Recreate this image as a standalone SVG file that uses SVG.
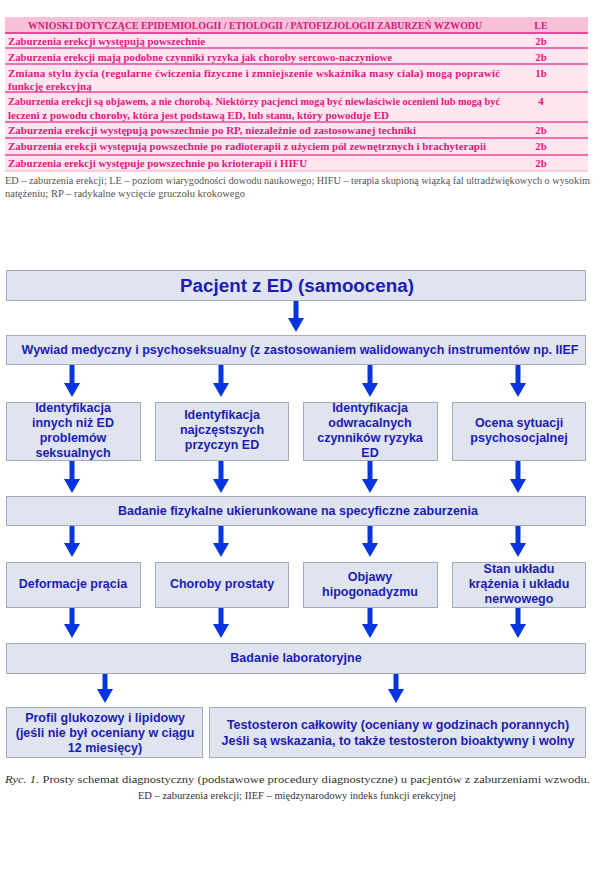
<svg xmlns="http://www.w3.org/2000/svg" width="600" height="886" viewBox="0 0 600 886">
<defs>
<style>
.tt{font-family:"Liberation Serif",serif;font-weight:bold;font-size:10.9px;fill:#e2177f}
.th{font-family:"Liberation Serif",serif;font-weight:bold;font-size:10px;fill:#d6197c}
.le{text-anchor:middle}
.fn{font-family:"Liberation Serif",serif;font-size:10.3px;fill:#555}
.cap{font-family:"Liberation Serif",serif;font-size:10.8px;fill:#333}
.sep{stroke:#e8489a;stroke-width:1.5}
.box{fill:#dfe4ef;stroke:#a3aabb;stroke-width:1}
.bt{font-family:"Liberation Sans",Arial,sans-serif;font-weight:bold;font-size:12.5px;fill:#1c1cb4;text-anchor:middle}
.big{font-size:18.8px}
.arr{stroke:#0535e0;stroke-width:5;fill:none}
</style>
<marker id="ah" viewBox="0 0 14 16" refX="0" refY="8" markerWidth="14" markerHeight="16" markerUnits="userSpaceOnUse" orient="auto">
<path d="M0,0 L14,8 L0,16 z" fill="#0535e0"/>
</marker>
</defs>
<rect width="600" height="886" fill="#fff"/>
<g id="table">
<rect x="5" y="17" width="583" height="16" fill="#f8c0d9"/>
<rect x="5" y="33" width="583" height="138" fill="#fde6f0"/>
<line class="sep" x1="5" y1="33" x2="588" y2="33" style="stroke-width:2"/>
<line class="sep" x1="5" y1="48" x2="588" y2="48"/>
<line class="sep" x1="5" y1="64" x2="588" y2="64"/>
<line class="sep" x1="5" y1="92" x2="588" y2="92"/>
<line class="sep" x1="5" y1="122" x2="588" y2="122"/>
<line class="sep" x1="5" y1="138" x2="588" y2="138"/>
<line class="sep" x1="5" y1="155" x2="588" y2="155"/>
<line x1="5" y1="171" x2="588" y2="171" stroke="#f3a5c9" stroke-width="1"/>
<text class="th" x="28" y="29" textLength="454" lengthAdjust="spacingAndGlyphs">WNIOSKI DOTYCZĄCE EPIDEMIOLOGII / ETIOLOGII / PATOFIZJOLOGII ZABURZEŃ WZWODU</text>
<text class="th le" x="541" y="29">LE</text>
<text class="tt" x="8" y="45" textLength="197" lengthAdjust="spacingAndGlyphs">Zaburzenia erekcji występują powszechnie</text>
<text class="tt le" x="541" y="45">2b</text>
<text class="tt" x="8" y="61" textLength="384" lengthAdjust="spacingAndGlyphs">Zaburzenia erekcji mają podobne czynniki ryzyka jak choroby sercowo-naczyniowe</text>
<text class="tt le" x="541" y="61">2b</text>
<text class="tt" x="8" y="77" textLength="492" lengthAdjust="spacing">Zmiana stylu życia (regularne ćwiczenia fizyczne i zmniejszenie wskaźnika masy ciała) mogą poprawić</text>
<text class="tt" x="8" y="90">funkcję erekcyjną</text>
<text class="tt le" x="541" y="77">1b</text>
<text class="tt" x="8" y="105" textLength="492" lengthAdjust="spacingAndGlyphs">Zaburzenia erekcji są objawem, a nie chorobą. Niektórzy pacjenci mogą być niewłaściwie ocenieni lub mogą być</text>
<text class="tt" x="8" y="119" textLength="381" lengthAdjust="spacingAndGlyphs">leczeni z powodu choroby, która jest podstawą ED, lub stanu, który powoduje ED</text>
<text class="tt le" x="541" y="105">4</text>
<text class="tt" x="8" y="134" textLength="408" lengthAdjust="spacingAndGlyphs">Zaburzenia erekcji występują powszechnie po RP, niezależnie od zastosowanej techniki</text>
<text class="tt le" x="541" y="134">2b</text>
<text class="tt" x="8" y="150" textLength="478" lengthAdjust="spacingAndGlyphs">Zaburzenia erekcji występują powszechnie po radioterapii z użyciem pól zewnętrznych i brachyterapii</text>
<text class="tt le" x="541" y="150">2b</text>
<text class="tt" x="8" y="167" textLength="299" lengthAdjust="spacingAndGlyphs">Zaburzenia erekcji występuje powszechnie po krioterapii i HIFU</text>
<text class="tt le" x="541" y="167">2b</text>
<text class="fn" x="5" y="184" textLength="585" lengthAdjust="spacing">ED – zaburzenia erekcji; LE – poziom wiarygodności dowodu naukowego; HIFU – terapia skupioną wiązką fal ultradźwiękowych o wysokim</text>
<text class="fn" x="5" y="197" textLength="240" lengthAdjust="spacingAndGlyphs">natężeniu; RP – radykalne wycięcie gruczołu krokowego</text>
</g>
<g id="connectors">
<line class="arr" x1="296" y1="300" x2="296" y2="318" marker-end="url(#ah)"/>
<line class="arr" x1="72" y1="364" x2="72" y2="383" marker-end="url(#ah)"/>
<line class="arr" x1="221" y1="364" x2="221" y2="383" marker-end="url(#ah)"/>
<line class="arr" x1="370" y1="364" x2="370" y2="383" marker-end="url(#ah)"/>
<line class="arr" x1="518" y1="364" x2="518" y2="383" marker-end="url(#ah)"/>
<line class="arr" x1="72" y1="460" x2="72" y2="479" marker-end="url(#ah)"/>
<line class="arr" x1="221" y1="460" x2="221" y2="479" marker-end="url(#ah)"/>
<line class="arr" x1="370" y1="460" x2="370" y2="479" marker-end="url(#ah)"/>
<line class="arr" x1="518" y1="460" x2="518" y2="479" marker-end="url(#ah)"/>
<line class="arr" x1="72" y1="525" x2="72" y2="543" marker-end="url(#ah)"/>
<line class="arr" x1="221" y1="525" x2="221" y2="543" marker-end="url(#ah)"/>
<line class="arr" x1="370" y1="525" x2="370" y2="543" marker-end="url(#ah)"/>
<line class="arr" x1="518" y1="525" x2="518" y2="543" marker-end="url(#ah)"/>
<line class="arr" x1="72" y1="607" x2="72" y2="624" marker-end="url(#ah)"/>
<line class="arr" x1="221" y1="607" x2="221" y2="624" marker-end="url(#ah)"/>
<line class="arr" x1="370" y1="607" x2="370" y2="624" marker-end="url(#ah)"/>
<line class="arr" x1="518" y1="607" x2="518" y2="624" marker-end="url(#ah)"/>
<line class="arr" x1="105" y1="673" x2="105" y2="689" marker-end="url(#ah)"/>
<line class="arr" x1="396" y1="673" x2="396" y2="689" marker-end="url(#ah)"/>
</g>
<g id="n-pacjent">
<rect class="box" x="6.5" y="270.5" width="579" height="30"/>
<text class="bt big" x="297" y="292">Pacjent z ED (samoocena)</text>
</g>
<g id="n-wywiad">
<rect class="box" x="6.5" y="335.5" width="579" height="29"/>
<text class="bt" x="300" y="354">Wywiad medyczny i psychoseksualny (z zastosowaniem walidowanych instrumentów np. IIEF</text>
</g>
<g id="n-id1">
<rect class="box" x="6.5" y="402.5" width="134" height="58"/>
<text class="bt" x="73" y="412">Identyfikacja</text>
<text class="bt" x="73" y="427">innych niż ED</text>
<text class="bt" x="73" y="442">problemów</text>
<text class="bt" x="73" y="457">seksualnych</text>
</g>
<g id="n-id2">
<rect class="box" x="155.5" y="402.5" width="133" height="58"/>
<text class="bt" x="222" y="419">Identyfikacja</text>
<text class="bt" x="222" y="434">najczęstszych</text>
<text class="bt" x="222" y="449">przyczyn ED</text>
</g>
<g id="n-id3">
<rect class="box" x="303.5" y="402.5" width="134" height="58"/>
<text class="bt" x="370" y="412">Identyfikacja</text>
<text class="bt" x="370" y="427">odwracalnych</text>
<text class="bt" x="370" y="442">czynników ryzyka</text>
<text class="bt" x="370" y="457">ED</text>
</g>
<g id="n-ocena">
<rect class="box" x="452.5" y="402.5" width="133" height="58"/>
<text class="bt" x="519" y="427">Ocena sytuacji</text>
<text class="bt" x="519" y="442">psychosocjalnej</text>
</g>
<g id="n-badanie">
<rect class="box" x="6.5" y="496.5" width="579" height="29"/>
<text class="bt" x="298" y="515">Badanie fizykalne ukierunkowane na specyficzne zaburzenia</text>
</g>
<g id="n-deform">
<rect class="box" x="6.5" y="562.5" width="134" height="45"/>
<text class="bt" x="73" y="588">Deformacje prącia</text>
</g>
<g id="n-prostata">
<rect class="box" x="155.5" y="562.5" width="133" height="45"/>
<text class="bt" x="222" y="588">Choroby prostaty</text>
</g>
<g id="n-hipo">
<rect class="box" x="303.5" y="562.5" width="134" height="45"/>
<text class="bt" x="370" y="581">Objawy</text>
<text class="bt" x="370" y="596">hipogonadyzmu</text>
</g>
<g id="n-stan">
<rect class="box" x="452.5" y="562.5" width="133" height="45"/>
<text class="bt" x="519" y="573">Stan układu</text>
<text class="bt" x="519" y="588">krążenia i układu</text>
<text class="bt" x="519" y="603">nerwowego</text>
</g>
<g id="n-lab">
<rect class="box" x="6.5" y="643.5" width="579" height="30"/>
<text class="bt" x="296" y="662">Badanie laboratoryjne</text>
</g>
<g id="n-profil">
<rect class="box" x="6.5" y="707.5" width="196" height="50"/>
<text class="bt" x="105" y="722">Profil glukozowy i lipidowy</text>
<text class="bt" x="105" y="737">(jeśli nie był oceniany w ciągu</text>
<text class="bt" x="105" y="752">12 miesięcy)</text>
</g>
<g id="n-testo">
<rect class="box" x="209.5" y="707.5" width="376" height="50"/>
<text class="bt" x="398" y="729">Testosteron całkowity (oceniany w godzinach porannych)</text>
<text class="bt" x="398" y="745">Jeśli są wskazania, to także testosteron bioaktywny i wolny</text>
</g>
<g id="caption">
<text class="cap" x="5" y="783" textLength="585" lengthAdjust="spacingAndGlyphs"><tspan font-style="italic">Ryc. 1.</tspan> Prosty schemat diagnostyczny (podstawowe procedury diagnostyczne) u pacjentów z zaburzeniami wzwodu.</text>
<text class="cap" x="297" y="799" text-anchor="middle" style="font-size:10.5px">ED – zaburzenia erekcji; IIEF – międzynarodowy indeks funkcji erekcyjnej</text>
</g>
</svg>
